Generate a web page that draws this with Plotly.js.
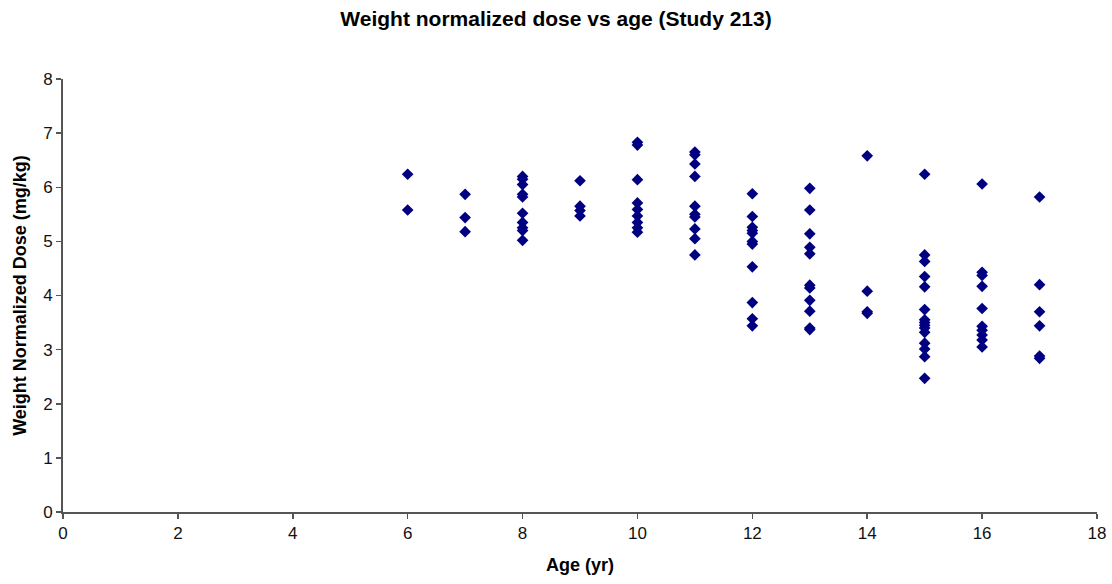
<!DOCTYPE html>
<html>
<head>
<meta charset="utf-8">
<script src="https://cdn.plot.ly/plotly-3.0.1.min.js"></script>
<style>html,body{margin:0;padding:0;background:#fff;}#chart{width:1112px;height:584px;}</style>
</head>
<body>
<div id="chart"></div>
<script>
const ages = [6, 7, 8, 9, 10, 11, 12, 13, 14, 15, 16, 17];
const dose6 = [6.24, 5.58];
const dose7 = [5.87, 5.44, 5.18];
const dose8 = [6.2, 6.15, 6.05, 5.87, 5.82, 5.52, 5.35, 5.25, 5.2, 5.02];
const dose9 = [6.12, 5.65, 5.57, 5.47];
const dose10 = [6.83, 6.78, 6.14, 5.71, 5.59, 5.47, 5.35, 5.25, 5.17];
const dose11 = [6.65, 6.6, 6.43, 6.2, 5.65, 5.5, 5.45, 5.23, 5.05, 4.75];
const dose12 = [5.88, 5.46, 5.26, 5.2, 5.15, 5.0, 4.95, 4.53, 3.87, 3.57, 3.44];
const dose13 = [5.98, 5.58, 5.14, 4.89, 4.77, 4.19, 4.14, 3.91, 3.71, 3.4, 3.37];
const dose14 = [6.58, 4.08, 3.7, 3.67];
const dose15 = [6.24, 4.75, 4.63, 4.35, 4.16, 3.74, 3.55, 3.5, 3.45, 3.4, 3.32, 3.12, 3.01, 2.87, 2.47];
const dose16 = [6.06, 4.43, 4.37, 4.17, 3.76, 3.43, 3.36, 3.27, 3.18, 3.05];
const dose17 = [5.82, 4.2, 3.7, 3.44, 2.88, 2.84];
const doses = [dose6, dose7, dose8, dose9, dose10, dose11, dose12, dose13, dose14, dose15, dose16, dose17];
const xTicks = [0, 2, 4, 6, 8, 10, 12, 14, 16, 18];
const yTicks = [0, 1, 2, 3, 4, 5, 6, 7, 8];

const xs = [], ys = [];
ages.forEach((a, i) => doses[i].forEach(d => { xs.push(a); ys.push(d); }));

const FONT = 'Liberation Sans, Arial, sans-serif';
const axisCommon = {
  showgrid: false, zeroline: false, showline: true, linecolor: '#555', linewidth: 2,
  ticks: 'outside', ticklen: 5, tickcolor: '#555', tickwidth: 1.5,
  tickfont: {family: FONT, size: 17, color: '#111'}
};

const trace = {
  x: xs, y: ys, type: 'scatter', mode: 'markers',
  marker: {symbol: 'diamond', size: 9, color: '#000080'},
  hoverinfo: 'x+y'
};

const layout = {
  width: 1112, height: 584,
  margin: {l: 63, r: 15, t: 79, b: 72},
  paper_bgcolor: '#fff', plot_bgcolor: '#fff',
  showlegend: false,
  title: {text: 'Weight normalized dose vs age (Study 213)', x: 0.5, xanchor: 'center', y: 0.968, yanchor: 'middle',
          font: {family: FONT, size: 21, color: '#000', weight: 'bold'}},
  xaxis: Object.assign({}, axisCommon, {
    range: [0, 18], tickvals: xTicks, ticktext: xTicks.map(String),
    title: {text: 'Age (yr)', standoff: 16, font: {family: FONT, size: 18, color: '#000', weight: 'bold'}}
  }),
  yaxis: Object.assign({}, axisCommon, {
    range: [0, 8], tickvals: yTicks, ticktext: yTicks.map(String),
    title: {text: 'Weight Normalized Dose (mg/kg)', standoff: 12, font: {family: FONT, size: 18, color: '#000', weight: 'bold'}}
  })
};

Plotly.newPlot('chart', [trace], layout, {displayModeBar: false, staticPlot: true});
</script>
</body>
</html>
